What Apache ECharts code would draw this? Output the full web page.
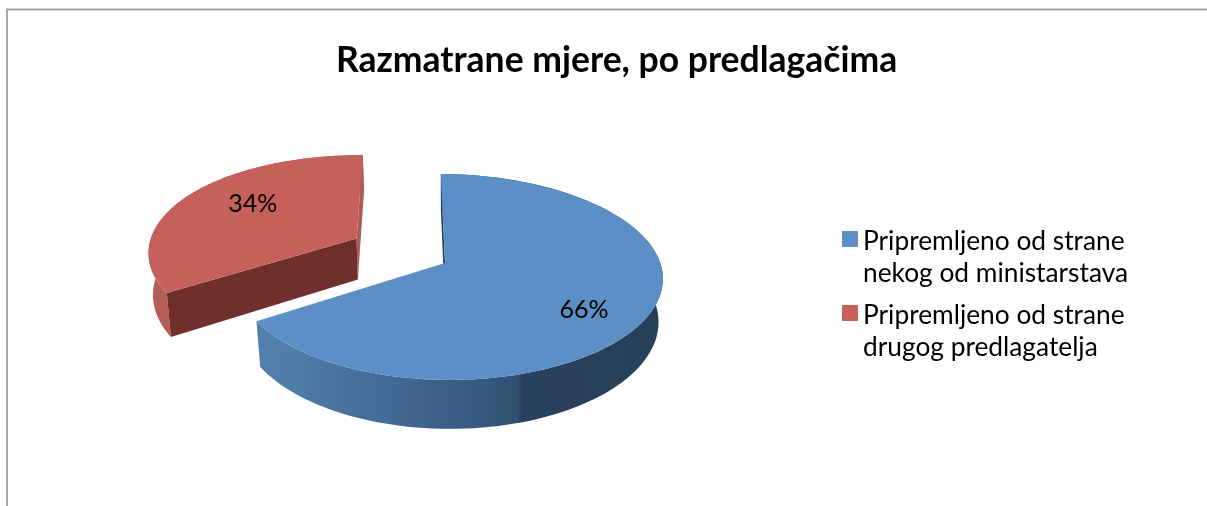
<!DOCTYPE html>
<html>
<head>
<meta charset="utf-8">
<style>html,body{margin:0;padding:0;background:#fff}#c{width:1207px;height:506px}</style>
<script src="https://cdn.jsdelivr.net/npm/echarts@6/dist/echarts.min.js"></script>
</head>
<body>
<div id="c"></div>
<script>
var titleText = 'Razmatrane mjere, po predlagačima';
var categories = ['Pripremljeno od strane\nnekog od ministarstava', 'Pripremljeno od strane\ndrugog predlagatelja'];
var values = [66, 34];
var percentLabels = ['66%', '34%'];

// Projection of the tilted pie (layout/style only)
var P = {x0: 445, y0: 263, R: 210, Rb: 101, k: 0.136, c: 0.025, s: 4.7, depth: 42.3};
var looks = [
  {top: '#5B8FC5', wallStops: [[0,'#5080AE'],[0.08,'#4F7FA8'],[0.2,'#4A729E'],[0.33,'#436A96'],[0.45,'#3C6088'],[0.55,'#365A7F'],[0.64,'#305270'],[0.655,'#28405F'],[1,'#28415A']],
   faceStart: '#26405A', faceEnd: null, ex: 0, ey: 0, leftScale: 1.022, twist: 0, shrink: 0.98, label: [0.72, -4, 10]},
  {top: '#C6605B', wallStops: [[0,'#B65C57'],[1,'#B65C57']],
   faceStart: '#6E2F2D', faceEnd: '#AE5A55', ex: -0.43, ey: -0.25, leftScale: 1.04, twist: -4, shrink: 0.985, label: [0.72, 20, -3]}
];

function pt(theta, look, r, low) {
  var u = Math.sin(theta) * r, v = -Math.cos(theta) * r;
  if (u < 0) u *= look.leftScale;
  var vv = v + look.ey, den = 1 - P.k * vv;
  var x = P.x0 + (P.R * (u + P.c * u * u + look.ex) + P.s * vv + look.twist * u * v) / den;
  var y = P.y0 + P.Rb * vv / den;
  if (low) { x = P.x0 + (x - P.x0) * look.shrink; y += P.depth / den; }
  return [x, y];
}
var total = values.reduce(function (a, b) { return a + b; }, 0);
var starts = values.map(function (_, i) {
  return values.slice(0, i).reduce(function (a, b) { return a + b; }, 0);
});

function renderSlice(idx, params, api) {
  var look = looks[idx];
  var a0 = api.value(0) / total * Math.PI * 2;
  var a1 = (api.value(0) + api.value(1)) / total * Math.PI * 2;
  var n = 120, arcTop = [], arcLow = [];
  for (var j = 0; j <= n; j++) {
    var t = a0 + (a1 - a0) * j / n;
    arcTop.push(pt(t, look, 1, false));
    arcLow.push(pt(t, look, 1, true));
  }
  var xs = arcTop.concat(arcLow).map(function (p) { return p[0]; });
  var minX = Math.min.apply(null, xs), maxX = Math.max.apply(null, xs);
  var grad = new echarts.graphic.LinearGradient(minX, 0, maxX, 0,
    look.wallStops.map(function (s) { return {offset: s[0], color: s[1]}; }), true);
  var children = [];
  children.push({type: 'polygon', shape: {points: arcTop.concat(arcLow.slice().reverse())},
    style: {fill: grad}});
  function face(theta, color) {
    if (!color) return;
    children.push({type: 'polygon', shape: {points: [pt(theta, look, 0, false), pt(theta, look, 1, false),
      pt(theta, look, 1, true), pt(theta, look, 0, true)]}, style: {fill: color}});
  }
  face(a1, look.faceEnd);
  face(a0, look.faceStart);
  children.push({type: 'polygon', shape: {points: [pt(0, look, 0, false)].concat(arcTop)},
    style: {fill: look.top}});
  var mid = (a0 + a1) / 2, lp = pt(mid, look, look.label[0], false);
  children.push({type: 'text', x: lp[0] + look.label[1], y: lp[1] + look.label[2], z2: 10,
    style: {text: percentLabels[idx], fill: '#000', font: '25px Lato', align: 'center', verticalAlign: 'middle'}});
  return {type: 'group', children: children};
}

var chart = echarts.init(document.getElementById('c'), null, {renderer: 'canvas'});
chart.setOption({
  animation: false,
  backgroundColor: '#fff',
  title: {text: titleText, left: 331, top: 38,
    textStyle: {fontFamily: 'Lato', fontWeight: 'bold', fontSize: 35.5, color: '#000'}},
  legend: {
    orient: 'vertical', left: 837, top: 183, itemWidth: 16, itemHeight: 16, itemGap: -28,
    icon: 'rect', selectedMode: false,
    data: categories,
    formatter: function (n) {
      return '{gap| }\n' + n.split('\n').map(function (l) { return '{line|' + l + '}'; }).join('\n');
    },
    textStyle: {
      color: '#000',
      rich: {
        gap: {fontSize: 10, lineHeight: 38, height: 38},
        line: {fontFamily: 'Lato', fontSize: 26.3, lineHeight: 32, height: 32, color: '#000'}
      }
    }
  },
  graphic: [
    {type: 'line', shape: {x1: 6, y1: 9.5, x2: 1207, y2: 9.5}, style: {stroke: '#A0A0A0', lineWidth: 2}},
    {type: 'line', shape: {x1: 7, y1: 9, x2: 7, y2: 506}, style: {stroke: '#A8A8A8', lineWidth: 2}}
  ],
  series: categories.map(function (name, i) {
    return {
      type: 'custom', name: name, coordinateSystem: 'none',
      itemStyle: {color: looks[i].top},
      data: [[starts[i], values[i]]],
      renderItem: renderSlice.bind(null, i)
    };
  })
});
</script>
</body>
</html>
